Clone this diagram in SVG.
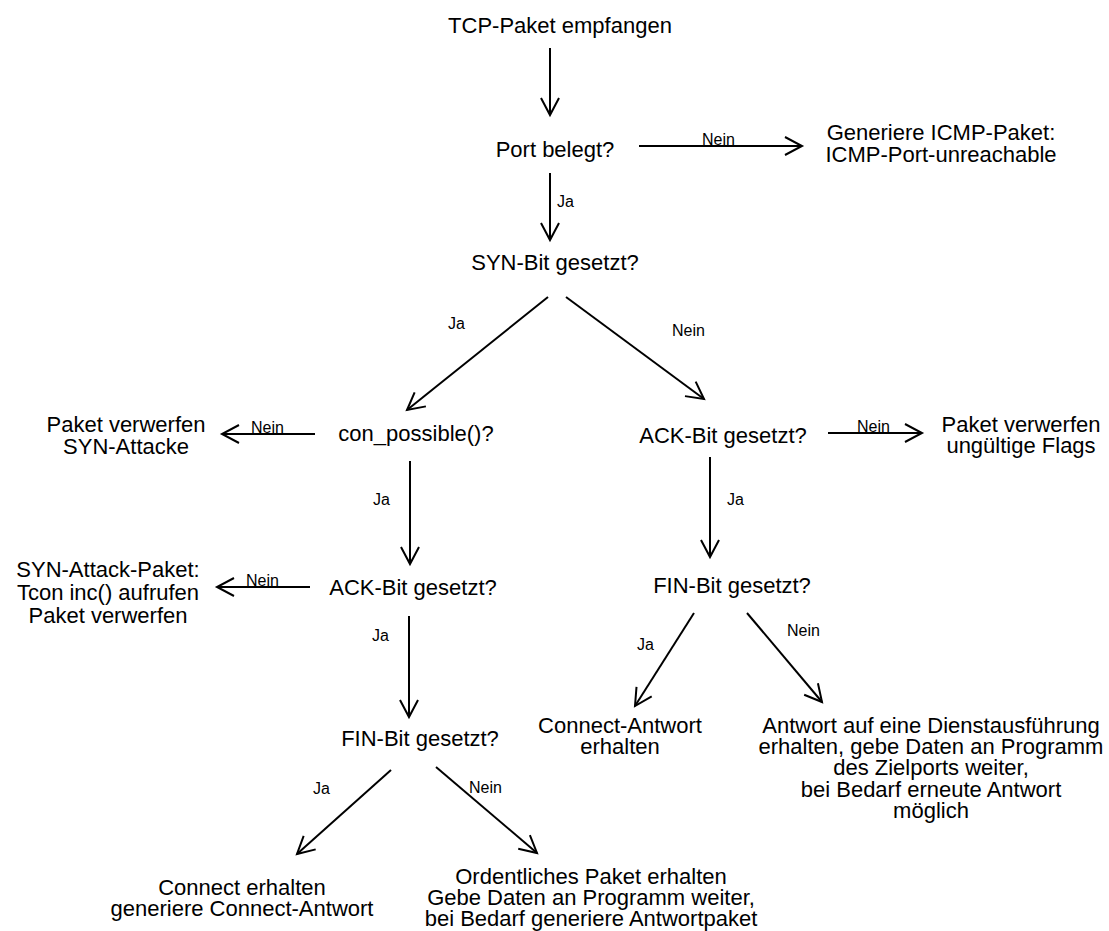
<svg xmlns="http://www.w3.org/2000/svg" width="1109" height="931" viewBox="0 0 1109 931">
  <defs>
    <style>
      .node { font-family: "Liberation Sans", Arial, sans-serif; font-size: 22px; fill: #000; text-anchor: middle; }
      .lbl { font-family: "Liberation Sans", Arial, sans-serif; font-size: 16px; fill: #000; }
      .edge { stroke: #000; stroke-width: 2; fill: none; marker-end: url(#arrow); }
    </style>
    <marker id="arrow" markerUnits="userSpaceOnUse" markerWidth="24" markerHeight="24" viewBox="-20 -12 24 24" refX="0" refY="0" orient="auto">
      <path d="M-17,-9 L0,0 L-17,9" fill="none" stroke="#000" stroke-width="2"/>
    </marker>
  </defs>
  <rect width="1109" height="931" fill="#fff"/>

  <!-- connectors -->
  <g id="connectors">
    <line class="edge" x1="550" y1="48" x2="550" y2="115"/>
    <line class="edge" x1="550" y1="173" x2="550" y2="240"/>
    <text class="lbl" x="557" y="207">Ja</text>
    <line class="edge" x1="639" y1="146" x2="802" y2="146"/>
    <text class="lbl" x="702" y="145">Nein</text>

    <line class="edge" x1="548" y1="297" x2="407" y2="410"/>
    <text class="lbl" x="448" y="329">Ja</text>
    <line class="edge" x1="566" y1="297" x2="704" y2="399"/>
    <text class="lbl" x="672" y="336">Nein</text>

    <line class="edge" x1="315" y1="434" x2="222" y2="434"/>
    <text class="lbl" x="251" y="433">Nein</text>
    <line class="edge" x1="410" y1="461" x2="410" y2="564"/>
    <text class="lbl" x="373" y="505">Ja</text>

    <line class="edge" x1="310" y1="587" x2="217" y2="587"/>
    <text class="lbl" x="246" y="586">Nein</text>
    <line class="edge" x1="409" y1="616" x2="409" y2="717"/>
    <text class="lbl" x="372" y="641">Ja</text>

    <line class="edge" x1="391" y1="770" x2="297" y2="854"/>
    <text class="lbl" x="313" y="794">Ja</text>
    <line class="edge" x1="436" y1="767" x2="537" y2="853"/>
    <text class="lbl" x="469" y="793">Nein</text>

    <line class="edge" x1="828" y1="433" x2="922" y2="433"/>
    <text class="lbl" x="857" y="432">Nein</text>
    <line class="edge" x1="710" y1="457" x2="710" y2="557"/>
    <text class="lbl" x="727" y="505">Ja</text>

    <line class="edge" x1="694" y1="613" x2="635" y2="706"/>
    <text class="lbl" x="637" y="650">Ja</text>
    <line class="edge" x1="747" y1="613" x2="822" y2="702"/>
    <text class="lbl" x="787" y="636">Nein</text>
  </g>

  <!-- nodes -->
  <g id="start"><text class="node" x="560" y="33">TCP-Paket empfangen</text></g>
  <g id="port"><text class="node" x="555" y="157">Port belegt?</text></g>
  <g id="icmp"><text class="node" x="941" y="140">Generiere ICMP-Paket:</text><text class="node" x="941" y="162">ICMP-Port-unreachable</text></g>
  <g id="syn"><text class="node" x="555" y="270">SYN-Bit gesetzt?</text></g>
  <g id="con"><text class="node" x="416" y="441">con_possible()?</text></g>
  <g id="drop-syn"><text class="node" x="126" y="432">Paket verwerfen</text><text class="node" x="126" y="454">SYN-Attacke</text></g>
  <g id="ack-left"><text class="node" x="413" y="595">ACK-Bit gesetzt?</text></g>
  <g id="syn-attack"><text class="node" x="108" y="577">SYN-Attack-Paket:</text><text class="node" x="108" y="600">Tcon inc() aufrufen</text><text class="node" x="108" y="623">Paket verwerfen</text></g>
  <g id="fin-left"><text class="node" x="420" y="746">FIN-Bit gesetzt?</text></g>
  <g id="connect"><text class="node" x="242" y="895">Connect erhalten</text><text class="node" x="242" y="916">generiere Connect-Antwort</text></g>
  <g id="ordentlich"><text class="node" x="591" y="884">Ordentliches Paket erhalten</text><text class="node" x="591" y="905">Gebe Daten an Programm weiter,</text><text class="node" x="591" y="926">bei Bedarf generiere Antwortpaket</text></g>
  <g id="ack-right"><text class="node" x="723" y="443">ACK-Bit gesetzt?</text></g>
  <g id="drop-flags"><text class="node" x="1021" y="432">Paket verwerfen</text><text class="node" x="1021" y="453">ungültige Flags</text></g>
  <g id="fin-right"><text class="node" x="732" y="593">FIN-Bit gesetzt?</text></g>
  <g id="connect-answer"><text class="node" x="620" y="733">Connect-Antwort</text><text class="node" x="620" y="754">erhalten</text></g>
  <g id="service-answer"><text class="node" x="931" y="733">Antwort auf eine Dienstausführung</text><text class="node" x="931" y="754">erhalten, gebe Daten an Programm</text><text class="node" x="931" y="775">des Zielports weiter,</text><text class="node" x="931" y="797">bei Bedarf erneute Antwort</text><text class="node" x="931" y="818">möglich</text></g>
</svg>
